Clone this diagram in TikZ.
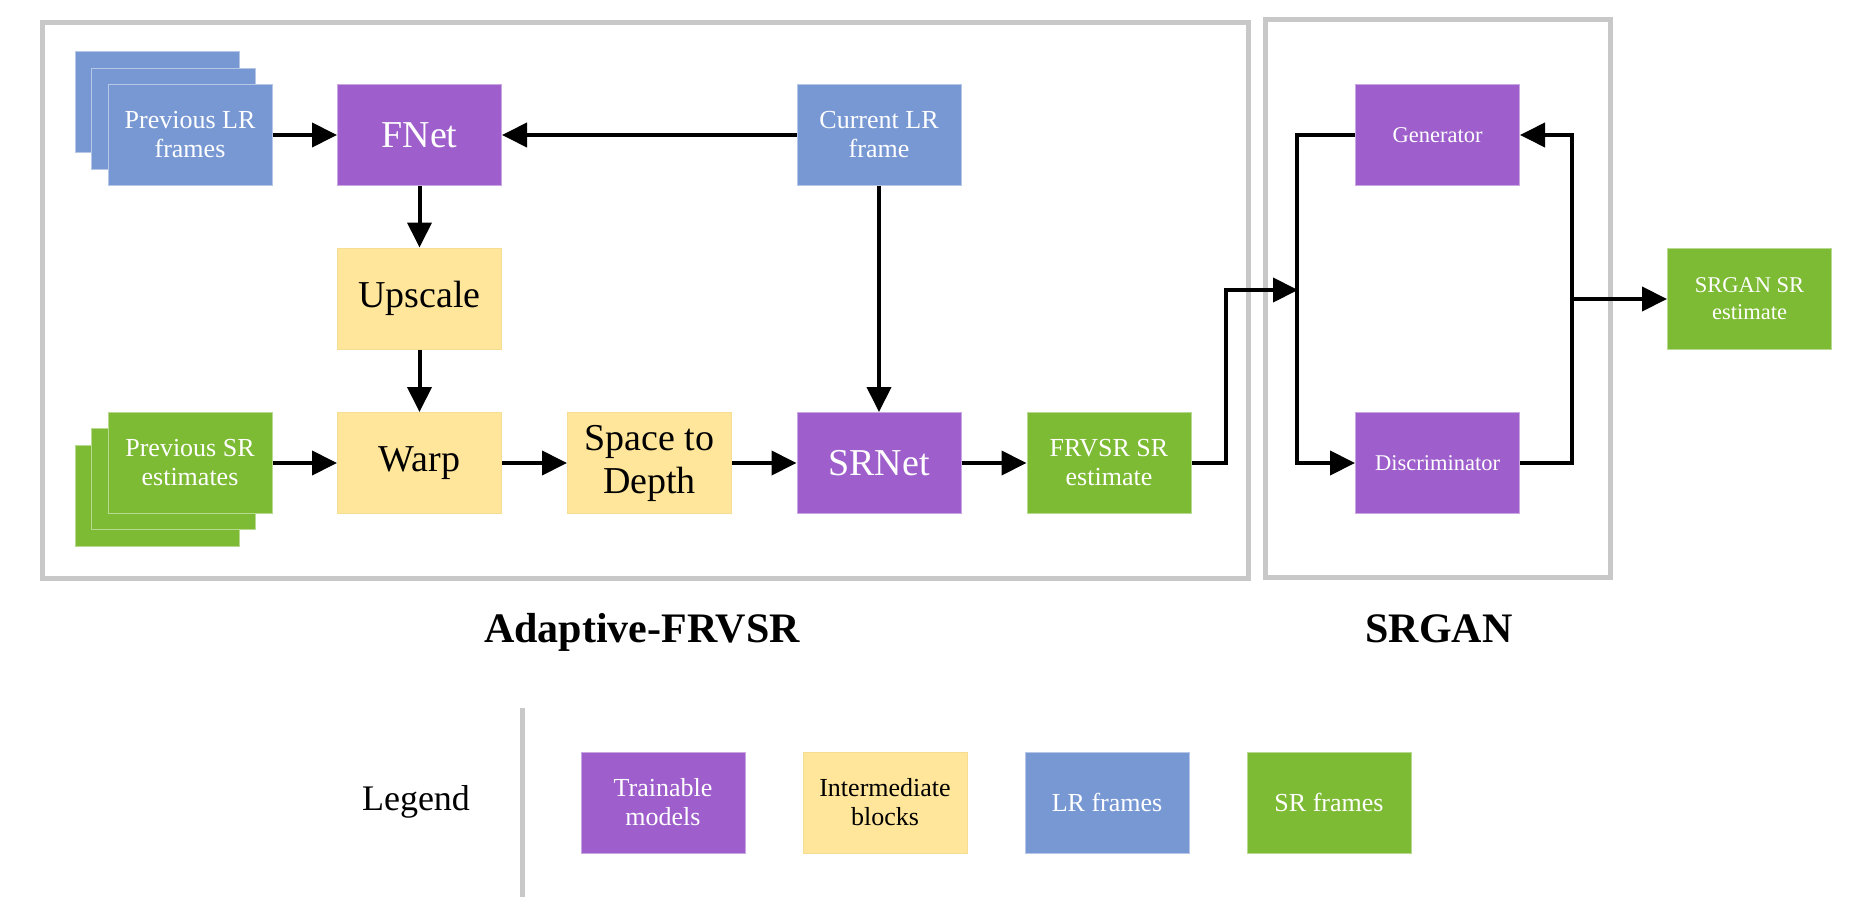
\documentclass[tikz,border=0pt]{standalone}
\usepackage{fontspec}
\setmainfont{Liberation Serif}
\usetikzlibrary{arrows.meta}
\definecolor{cPurple}{HTML}{9E5ECB}
\definecolor{cBlue}{HTML}{7898D4}
\definecolor{cGreen}{HTML}{7DBB35}
\definecolor{cYellow}{HTML}{FFE69A}
\definecolor{cGray}{HTML}{C8C8C8}
\tikzset{
  blk/.style={minimum width=164pt, minimum height=101pt, inner sep=0pt, align=center, line width=1pt},
  purp/.style={blk, fill=cPurple, draw=cPurple!55!white, text=white},
  blue/.style={blk, fill=cBlue, draw=cBlue!55!white, text=white},
  green/.style={blk, fill=cGreen, draw=cGreen!55!white, text=white},
  yell/.style={blk, fill=cYellow, draw=cYellow!80!black!20!cYellow, text=black},
  bigtxt/.style={font=\fontsize{38}{43}\selectfont},
  smalltxt/.style={font=\fontsize{26}{29}\selectfont},
  gantxt/.style={font=\fontsize{22.5}{27}\selectfont},
  title/.style={font=\fontsize{42}{48}\selectfont\bfseries, anchor=base},
  arr/.style={line width=4pt, -{Triangle[length=25pt,width=24pt]}},
  frame/.style={draw=cGray, line width=5pt},
}
\begin{document}
\begin{tikzpicture}[x=1pt,y=-1pt]
\useasboundingbox (0,0) rectangle (1870,912);
% frames
\draw[frame] (42,23) rectangle (1248,578);
\draw[frame] (1265,20) rectangle (1610,577);
% previous LR stack
\node[blue] (lr3) at (157,102.5) {};
\node[blue] (lr2) at (173.5,119.5) {};
\node[blue, smalltxt] (lr1) at (190,135) {Previous LR\\frames};
% previous SR stack
\node[green] (sr3) at (157,495.5) {};
\node[green] (sr2) at (173.5,479) {};
\node[green, smalltxt] (sr1) at (190,463) {Previous SR\\estimates};
% main blocks
\node[purp, bigtxt] (fnet) at (419.5,135) {FNet};
\node[blue, smalltxt] (cur) at (879,135) {Current LR\\frame};
\node[yell, bigtxt] (up) at (419.5,298.5) {Upscale};
\node[yell, bigtxt] (warp) at (419.5,463) {Warp};
\node[yell, bigtxt] (s2d) at (649.5,463) {Space to\\Depth};
\node[purp, bigtxt] (srnet) at (879,463) {SRNet};
\node[green, smalltxt] (frvsr) at (1109,463) {FRVSR SR\\estimate};
\node[purp, gantxt] (gen) at (1437.5,135) {Generator};
\node[purp, gantxt] (disc) at (1437.5,463) {Discriminator};
\node[green, gantxt] (srgan) at (1749.5,299) {SRGAN SR\\estimate};
\coordinate (j1) at (1298,290);
\coordinate (j2) at (1571,299);
% arrows
\draw[arr] (lr1) -- (fnet);
\draw[arr] (cur) -- (fnet);
\draw[arr] (fnet) -- (up);
\draw[arr] (up) -- (warp);
\draw[arr] (sr1) -- (warp);
\draw[arr] (warp) -- (s2d);
\draw[arr] (s2d) -- (srnet);
\draw[arr] (cur) -- (srnet);
\draw[arr] (srnet) -- (frvsr);
\draw[arr] (frvsr.east) -- ++(34,0) |- (j1);
\draw[arr] (gen.west) -- ++(-58,0) |- (disc.west);
\draw[arr] (disc.east) -- ++(52,0) |- (gen.east);
\draw[arr] (j2) -- (srgan.west);
% titles
\node[title] (t1) at (642,642) {Adaptive-FRVSR};
\node[title] (t2) at (1439,642) {SRGAN};
% legend
\node[font=\fontsize{36}{40}\selectfont] (leg) at (416,802) {Legend};
\coordinate (la) at (522,708);
\coordinate (lb) at (522,897);
\draw[draw=cGray, line width=5pt] (la) -- (lb);
\node[purp, smalltxt] (l1) at (663,802.5) {Trainable\\models};
\node[yell, smalltxt] (l2) at (885,802.5) {Intermediate\\blocks};
\node[blue, smalltxt] (l3) at (1107,802.5) {LR frames};
\node[green, smalltxt] (l4) at (1329,802.5) {SR frames};
\end{tikzpicture}
\end{document}
